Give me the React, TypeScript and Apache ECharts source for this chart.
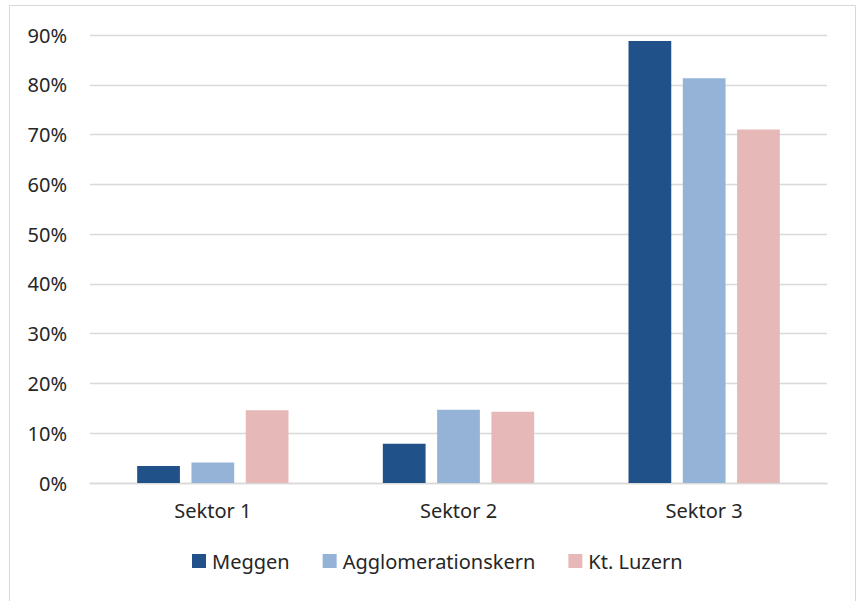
import React, { useEffect, useRef } from "react";
import * as echarts from "echarts";

const categories = ["Sektor 1", "Sektor 2", "Sektor 3"];
const seriesNames = ["Meggen", "Agglomerationskern", "Kt. Luzern"];
const meggen = [3.4, 7.9, 88.8];
const agglomerationskern = [4.1, 14.7, 81.3];
const ktLuzern = [14.6, 14.3, 71.0];
const colors = ["#215189", "#95B3D7", "#E6B9B8"];

const FONT = "'Noto Sans', 'Open Sans', sans-serif";

export default function App() {
  const ref = useRef<HTMLDivElement>(null);

  useEffect(() => {
    if (!ref.current) return;
    const chart = echarts.init(ref.current, null, { renderer: "svg" });
    const values = [meggen, agglomerationskern, ktLuzern];
    chart.setOption({
      animation: false,
      backgroundColor: "#ffffff",
      textStyle: { fontFamily: FONT },
      graphic: [
        {
          type: "rect",
          shape: { x: 9.5, y: 5.5, width: 846, height: 600 },
          style: { fill: "none", stroke: "#d9d9d9", lineWidth: 1 },
          silent: true,
        },
      ],
      grid: { left: 90, right: 35, top: 35, bottom: 118 },
      legend: {
        data: seriesNames,
        left: 192,
        top: 551,
        padding: 0,
        itemWidth: 14,
        itemHeight: 14,
        itemGap: 33,
        icon: "rect",
        textStyle: { fontFamily: FONT, fontSize: 20, color: "#262626", padding: [0, 0, 0, 1] },
      },
      xAxis: {
        type: "category",
        data: categories,
        axisLine: { show: true, lineStyle: { color: "#d9d9d9", width: 1.3 } },
        axisTick: { show: false },
        axisLabel: { fontFamily: FONT, fontSize: 20, color: "#262626", margin: 17 },
      },
      yAxis: {
        type: "value",
        min: 0,
        max: 90,
        interval: 10,
        axisLine: { show: false },
        axisTick: { show: false },
        splitLine: { lineStyle: { color: "#d9d9d9", width: 1.3 } },
        axisLabel: {
          fontFamily: FONT,
          fontSize: 20,
          color: "#262626",
          margin: 23,
          formatter: (v: number) => `${v}%`,
        },
      },
      series: seriesNames.map((name, i) => ({
        name,
        type: "bar",
        data: values[i],
        barWidth: "17.4%",
        barGap: "27%",
        itemStyle: { color: colors[i] },
      })),
    });
    return () => chart.dispose();
  }, []);

  return (
    <div
      ref={ref}
      style={{ position: "absolute", left: 0, top: 0, width: 862, height: 601 }}
    />
  );
}
